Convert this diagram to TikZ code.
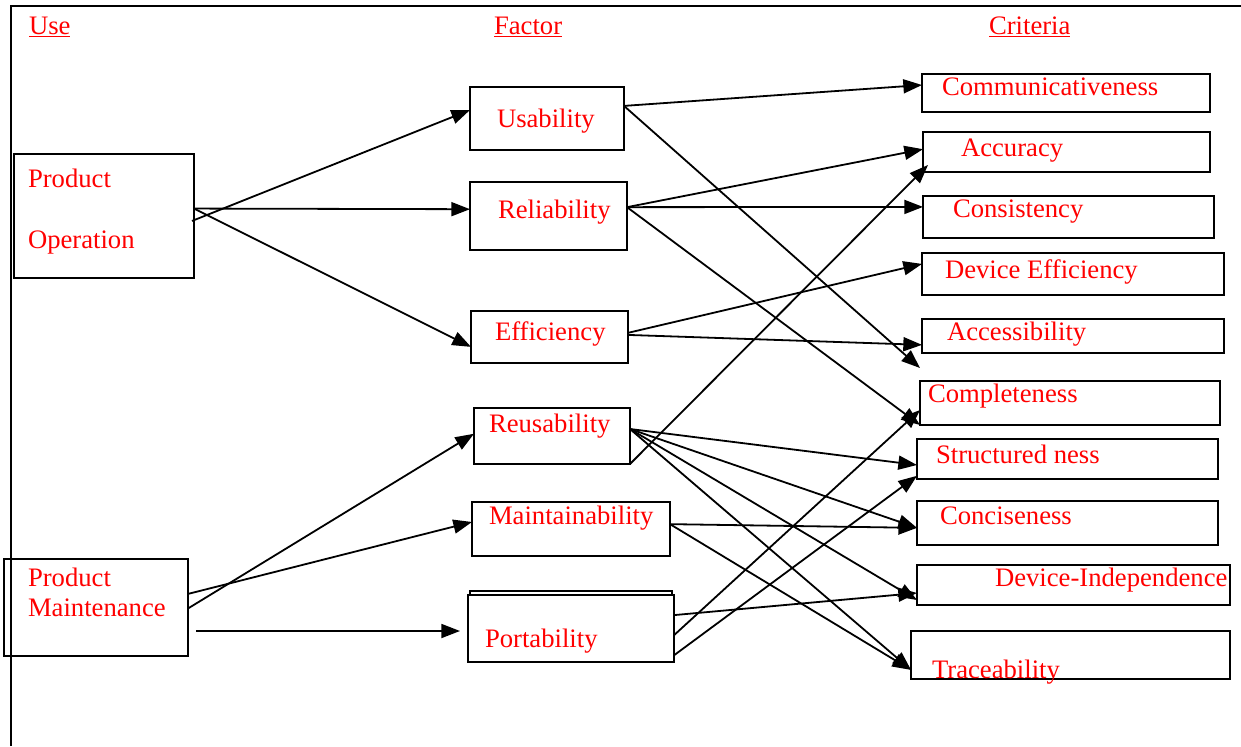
\documentclass[tikz,border=0pt]{standalone}
\usepackage{fontspec}
\setmainfont{Liberation Serif}
\usetikzlibrary{arrows.meta,calc,fit}

\tikzset{every picture/.style={line width=1.5pt}}
\tikzset{
  box/.style={draw, inner sep=0pt, outer sep=0pt},
  lbl/.style={anchor=base west, inner sep=0pt, text=red, font=\fontsize{20}{24}\selectfont},
  arr/.style={-{Triangle[length=14pt,width=10.5pt]}, line width=1.35pt},
}

\begin{document}
\begin{tikzpicture}[x=0.75pt,y=0.75pt,yscale=-1,xscale=1]
\useasboundingbox (0,0) rectangle (1241,746);

%Frame
\draw (11,746) -- (11,6) -- (1241,6);

% Headings
\node (hUse) [lbl] at (28,34) {\underline{Use}};
\node (hFactor) [lbl] at (493,34) {\underline{Factor}};
\node (hCriteria) [lbl] at (988,34) {\underline{Criteria}};

% Use boxes
\node (po) [box, fit={(14,154) (194,278)}] {};
\node (pm) [box, fit={(4,559) (188,656)}] {};

% Factor boxes
\node (us) [box, fit={(470,87) (624,150)}] {};
\node (re) [box, fit={(470,182) (627,250)}] {};
\node (ef) [box, fit={(471,311) (628,363)}] {};
\node (ru) [box, fit={(474,408) (630,464)}] {};
\node (ma) [box, fit={(472,502) (670,556)}] {};
\node (ptb) [box, fit={(470,591) (672,640)}] {};
\node (pt) [box, fill=white, fit={(468,595) (674,662)}] {};

% Criteria boxes
\node (cm) [box, fit={(922,74) (1210,112)}] {};
\node (ac) [box, fit={(923,132) (1210,172)}] {};
\node (cs) [box, fit={(923,196) (1214,238)}] {};
\node (de) [box, fit={(922,253) (1224,295)}] {};
\node (as) [box, fit={(922,319) (1224,353)}] {};
\node (cp) [box, fit={(920,381) (1220,425)}] {};
\node (st) [box, fit={(917,439) (1218,479)}] {};
\node (cn) [box, fit={(917,501) (1218,545)}] {};
\node (di) [box, fit={(917,565) (1230,605)}] {};
\node (tr) [box, fit={(911,631) (1230,679)}] {};

% Text Nodes
\node (poA) [lbl] at (27,187) {Product};
\node (poB) [lbl] at (27,248) {Operation};
\node (pmA) [lbl] at (27,586) {Product};
\node (pmB) [lbl] at (27,616) {Maintenance};
\node (usT) [lbl] at (496,127) {Usability};
\node (reT) [lbl] at (497,218) {Reliability};
\node (efT) [lbl] at (494,340) {Efficiency};
\node (ruT) [lbl] at (488,432) {Reusability};
\node (maT) [lbl] at (488,524) {Maintainability};
\node (ptT) [lbl] at (484,647) {Portability};
\node (cmT) [lbl] at (941,95) {Communicativeness};
\node (acT) [lbl] at (960,156) {Accuracy};
\node (csT) [lbl] at (952,217) {Consistency};
\node (deT) [lbl] at (944,278) {Device Efficiency};
\node (asT) [lbl] at (946,340) {Accessibility};
\node (cpT) [lbl] at (927,402) {Completeness};
\node (stT) [lbl] at (935,463) {Structured ness};
\node (cnT) [lbl] at (939,524) {Conciseness};
\node (diT) [lbl] at (994,586) {Device-Independence};
\node (trT) [lbl] at (931,678) {Traceability};

% Use -> Factor
\draw [arr] ($(po.north east)!.54!(po.south east)+(-2,0)$) -- ($(us.north west)!.365!(us.south west)$);
\draw [arr] ($(po.north east)!.44!(po.south east)$) -- ($(re.north west)!.40!(re.south west)$);
\draw [arr] ($(po.north east)!.44!(po.south east)$) -- ($(ef.north west)!.69!(ef.south west)$);
\draw [arr] ($(pm.north east)!.36!(pm.south east)$) -- ($(ma.north west)!.37!(ma.south west)$);
\draw [arr] ($(pm.north east)!.51!(pm.south east)$) -- ($(ru.north west)!.46!(ru.south west)$);
\draw [arr] ($(pm.south east)+(8,-25)$) -- ($(pt.west)+(-8,2.5)$);

% Factor -> Criteria
\draw [arr] ($(us.north east)!.30!(us.south east)$) -- ($(cm.north west)!.29!(cm.south west)$);
\draw [arr] ($(us.north east)!.30!(us.south east)$) -- ($(cp.north west)+(0,-13)$);
\draw [arr] ($(re.north east)!.37!(re.south east)$) -- ($(ac.north west)!.43!(ac.south west)$);
\draw [arr] ($(re.north east)!.37!(re.south east)$) -- ($(cs.north west)!.26!(cs.south west)$);
\draw [arr] ($(re.north east)!.37!(re.south east)$) -- (cp.south west);
\draw [arr] ($(ef.north east)!.42!(ef.south east)$) -- ($(de.north west)!.26!(de.south west)$);
\draw [arr] ($(ef.north east)!.46!(ef.south east)$) -- ($(as.north west)!.76!(as.south west)$);
\draw [arr] (ru.south east) -- ($(ac.south west)+(5,-7)$);
\draw [arr] ($(ru.north east)!.375!(ru.south east)$) -- ($(st.north west)!.65!(st.south west)$);
\draw [arr] ($(ru.north east)!.375!(ru.south east)$) -- ($(cn.north west)!.61!(cn.south west)$);
\draw [arr] ($(ru.north east)!.375!(ru.south east)$) -- ($(di.north west)!.875!(di.south west)$);
\draw [arr] ($(ru.north east)!.375!(ru.south east)$) -- ($(tr.north west)!.81!(tr.south west)$);
\draw [arr] ($(ma.north east)!.41!(ma.south east)$) -- ($(cn.north west)!.61!(cn.south west)$);
\draw [arr] ($(ma.north east)!.41!(ma.south east)$) -- ($(tr.north west)!.81!(tr.south west)$);
\draw [arr] ($(pt.north east)!.30!(pt.south east)$) -- ($(di.north west)!.70!(di.south west)$);
\draw [arr] ($(pt.north east)!.60!(pt.south east)$) -- ($(cp.north west)!.66!(cp.south west)$);
\draw [arr] ($(pt.north east)!.90!(pt.south east)$) -- ($(st.north west)!.92!(st.south west)$);

\end{tikzpicture}
\end{document}
